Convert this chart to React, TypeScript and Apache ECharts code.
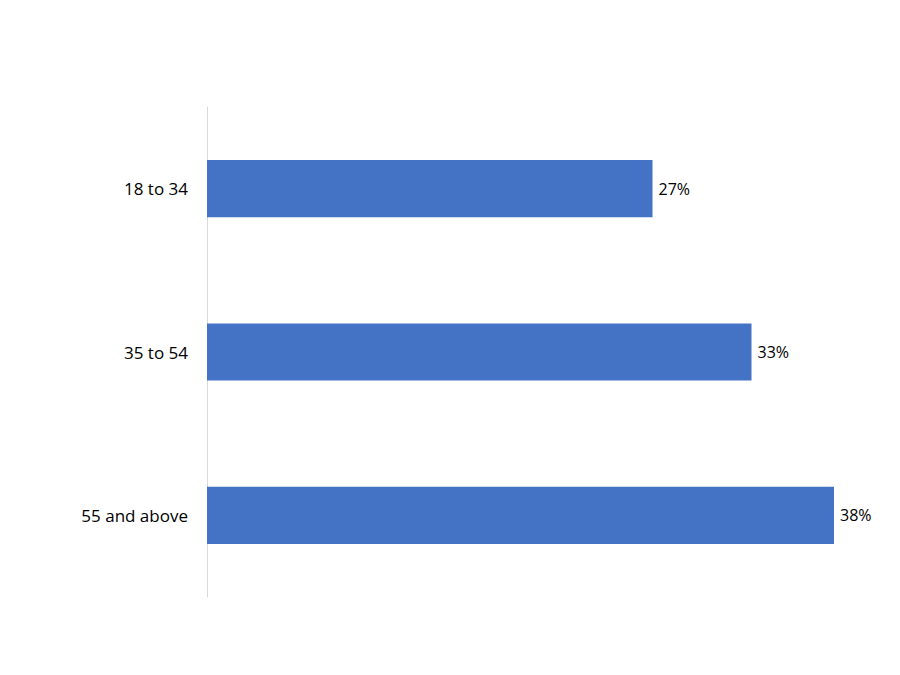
import { useEffect, useRef } from 'react';
import * as echarts from 'echarts';

const categories = ['18 to 34', '35 to 54', '55 and above'];
const values = [27, 33, 38];

export default function App() {
  const chartRef = useRef<HTMLDivElement>(null);

  useEffect(() => {
    if (!chartRef.current) return;
    const chart = echarts.init(chartRef.current, undefined, { renderer: 'svg' });

    const option: echarts.EChartsOption = {
      animation: false,
      backgroundColor: '#ffffff',
      textStyle: { fontFamily: 'Open Sans, Noto Sans, sans-serif' },
      grid: {
        left: 207,
        right: 33,
        top: 107,
        bottom: 78,
        containLabel: false
      },
      xAxis: {
        type: 'value',
        min: 0,
        max: 40,
        show: false
      },
      yAxis: {
        type: 'category',
        data: categories,
        inverse: true,
        axisLine: { show: true, lineStyle: { color: '#d9d9d9', width: 1 } },
        axisTick: { show: false },
        axisLabel: {
          color: '#000000',
          fontSize: 17,
          margin: 19
        },
        splitLine: { show: false }
      },
      series: [{
        type: 'bar',
        data: values,
        barWidth: '35%',
        itemStyle: { color: '#4472C4' },
        label: {
          show: true,
          position: 'right',
          distance: 6,
          formatter: '{c}%',
          color: '#000000',
          fontSize: 16
        }
      }]
    };

    chart.setOption(option);
    return () => chart.dispose();
  }, []);

  return (
    <div
      ref={chartRef}
      style={{ position: 'fixed', top: 0, left: 0, width: 900, height: 675 }}
    />
  );
}
